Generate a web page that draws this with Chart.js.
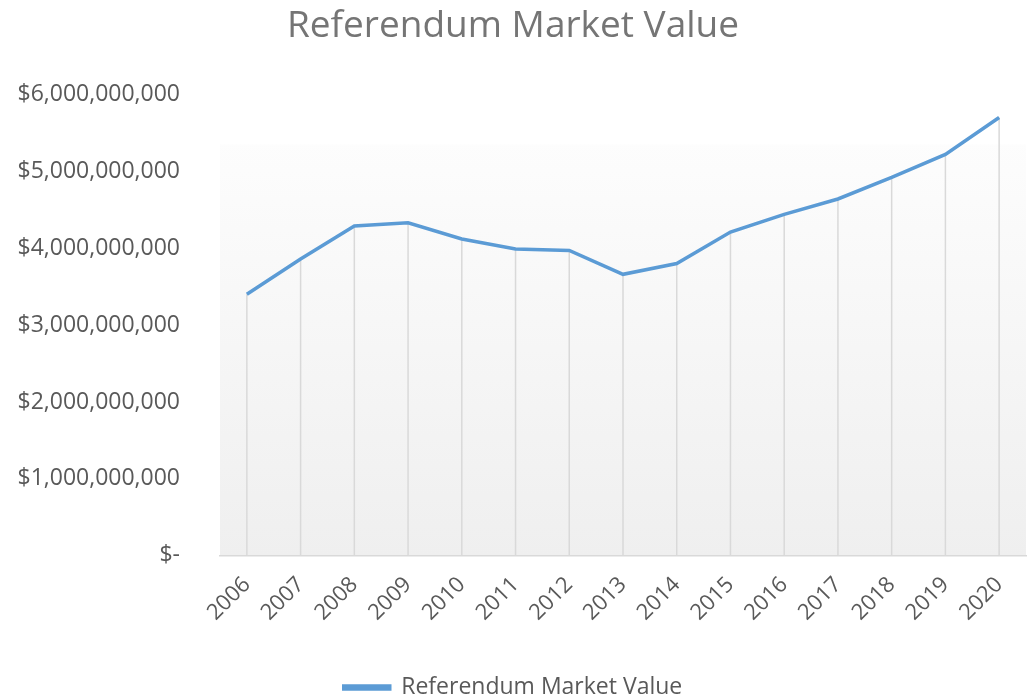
<!DOCTYPE html>
<html lang="en">
<head>
    <meta charset="UTF-8">
    <title>Referendum Market Value</title>
    <script src="https://cdn.jsdelivr.net/npm/chart.js"></script>
    <style>
        body {
            margin: 0;
            padding: 0;
            background: #fff;
        }
        .chart-box {
            width: 1028px;
            height: 700px;
        }
    </style>
</head>
<body>
    <div class="chart-box">
        <canvas id="marketChart"></canvas>
    </div>

    <script>
// Data
const years = ['2006', '2007', '2008', '2009', '2010', '2011', '2012', '2013', '2014', '2015', '2016', '2017', '2018', '2019', '2020'];
const marketValue = [3400000000, 3860000000, 4290000000, 4330000000, 4120000000, 3990000000, 3970000000, 3660000000, 3800000000, 4210000000, 4440000000, 4640000000, 4920000000, 5220000000, 5700000000];
const yTicks = [0, 1000000000, 2000000000, 3000000000, 4000000000, 5000000000, 6000000000];

const lineColor = '#5B9BD5';
const fontFamily = "'Open Sans', sans-serif";

// soft white-to-grey fill behind the plot
const plotBackground = {
    id: 'plotBackground',
    beforeDraw(chart) {
        const { ctx, chartArea } = chart;
        const grad = ctx.createLinearGradient(0, chartArea.top, 0, chartArea.bottom);
        grad.addColorStop(0, '#ffffff');
        grad.addColorStop(0.1, '#fdfdfd');
        grad.addColorStop(1, '#efefef');
        ctx.save();
        ctx.fillStyle = grad;
        ctx.fillRect(chartArea.left, chartArea.top + 50, chartArea.right - chartArea.left, chartArea.bottom - chartArea.top - 50);
        ctx.restore();
    }
};

// vertical drop lines from each point down to the axis
const dropLines = {
    id: 'dropLines',
    beforeDatasetsDraw(chart) {
        const { ctx } = chart;
        const yScale = chart.scales.y;
        const base = yScale.getPixelForValue(0);
        ctx.save();
        ctx.strokeStyle = '#d9d9d9';
        ctx.lineWidth = 1.5;
        chart.getDatasetMeta(0).data.forEach(pt => {
            ctx.beginPath();
            ctx.moveTo(pt.x, pt.y);
            ctx.lineTo(pt.x, base);
            ctx.stroke();
        });
        ctx.restore();
    }
};

const formatDollars = v => v === 0 ? '$-' : '$' + v.toLocaleString('en-US');

new Chart(document.getElementById('marketChart'), {
    type: 'line',
    data: {
        labels: years,
        datasets: [{
            label: 'Referendum Market Value',
            data: marketValue,
            borderColor: lineColor,
            backgroundColor: lineColor,
            borderWidth: 3.5,
            pointRadius: 0,
            tension: 0,
            fill: false
        }]
    },
    options: {
        responsive: true,
        maintainAspectRatio: false,
        animation: false,
        layout: { padding: { left: 0, right: 2, top: 4, bottom: -9 } },
        plugins: {
            title: {
                display: true,
                text: 'Referendum Market Value',
                color: '#757575',
                font: { family: fontFamily, size: 37, weight: 'normal' },
                padding: { top: 0, bottom: 46 }
            },
            legend: {
                position: 'bottom',
                labels: {
                    color: '#595959',
                    font: { family: fontFamily, size: 23 },
                    boxWidth: 46,
                    boxHeight: 3,
                    padding: 0
                }
            },
            tooltip: { enabled: false }
        },
        scales: {
            x: {
                offset: true,
                grid: { display: false, drawTicks: false },
                border: { display: true, color: '#d9d9d9', width: 1.5 },
                ticks: {
                    color: '#595959',
                    font: { family: fontFamily, size: 22 },
                    maxRotation: 45,
                    minRotation: 45,
                    padding: 16
                },
                afterFit(axis) {
                    axis.height += 34;
                    axis.paddingLeft = 0;
                    axis.paddingRight = 0;
                }
            },
            y: {
                min: 0,
                max: 6000000000,
                afterBuildTicks(axis) {
                    axis.ticks = yTicks.map(v => ({ value: v }));
                },
                afterFit(axis) {
                    axis.width = 220;
                },
                grid: { display: false, drawTicks: false },
                border: { display: false },
                ticks: {
                    color: '#595959',
                    font: { family: fontFamily, size: 23 },
                    padding: 40,
                    callback: formatDollars
                }
            }
        }
    },
    plugins: [plotBackground, dropLines]
});
    </script>
</body>
</html>
